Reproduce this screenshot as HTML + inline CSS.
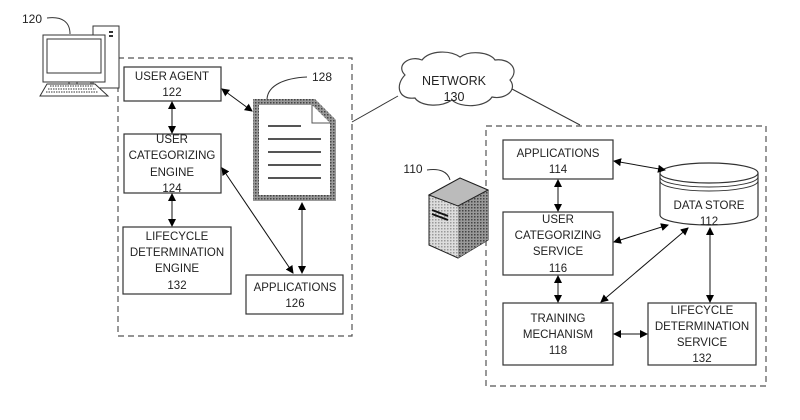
<!DOCTYPE html><html><head><style>body{margin:0;background:#fff}svg{display:block}text{font-family:"Liberation Sans",sans-serif;font-size:11.5px;fill:#222;text-anchor:middle}</style></head><body>
<svg width="800" height="420" viewBox="0 0 800 420">
<defs><marker id="a" markerWidth="8" markerHeight="8" refX="7" refY="4" orient="auto-start-reverse" markerUnits="userSpaceOnUse"><path d="M0,0 L8,4 L0,8z" fill="#000"/></marker>
<pattern id="h" width="3" height="3" patternUnits="userSpaceOnUse"><rect width="3" height="3" fill="#999"/><rect width="1.5" height="1.5" fill="#444"/></pattern>
<pattern id="s" width="3" height="3" patternUnits="userSpaceOnUse"><rect width="3" height="3" fill="#ddd"/><rect width="1.5" height="1.5" fill="#999"/></pattern></defs>
<g fill="none" stroke="#555" stroke-dasharray="6,4" stroke-width="1.2"><rect x="118" y="58" width="234" height="278"/><rect x="486" y="126" width="280" height="260"/></g>
<g fill="#fff" stroke="#333" stroke-width="1.2">
<rect x="124" y="67" width="97" height="34"/><rect x="124" y="134" width="97" height="59"/><rect x="123" y="227" width="108" height="67"/><rect x="246" y="275" width="97" height="39"/>
<rect x="503" y="140" width="110" height="39"/><rect x="503" y="212" width="110" height="63"/><rect x="503" y="303" width="110" height="62"/><rect x="648" y="303" width="108" height="62"/>
</g>
<text x="172" y="80">USER AGENT</text><text x="172" y="96">122</text>
<text x="172" y="143">USER</text><text x="172" y="159">CATEGORIZING</text><text x="172" y="176">ENGINE</text><text x="172" y="192">124</text>
<text x="177" y="240">LIFECYCLE</text><text x="177" y="256">DETERMINATION</text><text x="177" y="272">ENGINE</text><text x="177" y="289">132</text>
<text x="295" y="291">APPLICATIONS</text><text x="295" y="307">126</text>
<text x="558" y="157">APPLICATIONS</text><text x="558" y="173">114</text>
<text x="558" y="223">USER</text><text x="558" y="239">CATEGORIZING</text><text x="558" y="255">SERVICE</text><text x="558" y="272">116</text>
<text x="558" y="322">TRAINING</text><text x="558" y="338">MECHANISM</text><text x="558" y="354">118</text>
<text x="702" y="314">LIFECYCLE</text><text x="702" y="330">DETERMINATION</text><text x="702" y="346">SERVICE</text><text x="702" y="362">132</text>
<path d="M253,99 L315,99 L336,120 L336,201 L253,201z" fill="url(#h)"/>
<path d="M259,105 L312,105 L330,123 L330,195 L259,195z" fill="#fff"/>
<path d="M312,105 L312,123 L330,123" fill="#fff" stroke="#555"/>
<g stroke="#555" stroke-width="2"><line x1="268" y1="126" x2="301" y2="126"/><line x1="268" y1="139" x2="321" y2="139"/><line x1="268" y1="152" x2="321" y2="152"/><line x1="268" y1="165" x2="321" y2="165"/><line x1="268" y1="178" x2="321" y2="178"/></g>
<path d="M267,99 C268,85 285,78 307,77" fill="none" stroke="#333"/><text x="322" y="81" style="font-size:12px">128</text>
<path d="M660,173 L660,215 A49,10 0 0 0 758,215 L758,173" fill="#fff" stroke="#333" stroke-width="1.2"/>
<ellipse cx="709" cy="173" rx="49" ry="10" fill="#fff" stroke="#333" stroke-width="1.2"/>
<path d="M660,177 A49,10 0 0 0 758,177 M660,181 A49,10 0 0 0 758,181" fill="none" stroke="#333"/>
<text x="709" y="209">DATA STORE</text><text x="709" y="225">112</text>
<path d="M405,75 C395,65 410,55 422,60 C430,50 450,50 460,57 C470,50 490,52 495,60 C510,58 520,70 510,80 C518,90 505,100 492,97 C485,108 460,108 452,100 C440,108 420,106 415,98 C398,100 395,85 405,75z" fill="#fff" stroke="#444" stroke-width="1.2"/>
<text x="454" y="85" style="font-size:12.5px">NETWORK</text><text x="454" y="101" style="font-size:12.5px">130</text>
<g stroke="#333" fill="none"><line x1="352" y1="122" x2="398" y2="96"/><line x1="512" y1="89" x2="580" y2="125"/></g>
<text x="32" y="23" style="font-size:12px">120</text>
<path d="M47,18 C62,16 70,22 70,34" fill="none" stroke="#333"/>
<rect x="93" y="26" width="26" height="62" fill="#fff" stroke="#333"/><rect x="109" y="31" width="4" height="2" fill="#333"/><rect x="109" y="35" width="4" height="2" fill="#333"/>
<rect x="43" y="35" width="62" height="47" fill="#fff" stroke="#333"/><rect x="47" y="39" width="54" height="34" fill="#fff" stroke="#333"/>
<path d="M69,82 V90 M77,82 V90 M91,82 V90" stroke="#333"/>
<path d="M47,84 L95,84 L108,96 L40,96z" fill="#fff" stroke="#333"/>
<path d="M50,86 H93 M48,89 H96 M46,92 H98" stroke="#333" stroke-dasharray="1.5,1"/>
<text x="413" y="173" style="font-size:12px">110</text>
<path d="M427,170 C440,168 448,172 450,180" fill="none" stroke="#333"/>
<path d="M429,195 L460,178 L488,190 L488,240 L458,258 L429,245z" fill="url(#s)" stroke="#222"/>
<path d="M458,206 L488,190 L488,240 L458,258z" fill="url(#h)"/>
<path d="M429,195 L460,178 L488,190 L458,206z" fill="#bbb" stroke="#222"/>
<path d="M432,210 L448,216 M432,214 L448,220" stroke="#111" stroke-width="2"/>
<g stroke="#111" marker-start="url(#a)" marker-end="url(#a)">
<line x1="172" y1="102" x2="172" y2="133"/><line x1="172" y1="194" x2="172" y2="226"/>
<line x1="222" y1="89" x2="252" y2="111"/><line x1="222" y1="168" x2="293" y2="273"/>
<line x1="302" y1="203" x2="302" y2="273"/>
<line x1="558" y1="180" x2="558" y2="211"/><line x1="558" y1="276" x2="558" y2="302"/>
<line x1="614" y1="161" x2="665" y2="170"/><line x1="614" y1="242" x2="668" y2="225"/>
<line x1="601" y1="302" x2="688" y2="228"/><line x1="710" y1="228" x2="710" y2="302"/>
<line x1="614" y1="334" x2="647" y2="334"/>
</g>
</svg></body></html>
